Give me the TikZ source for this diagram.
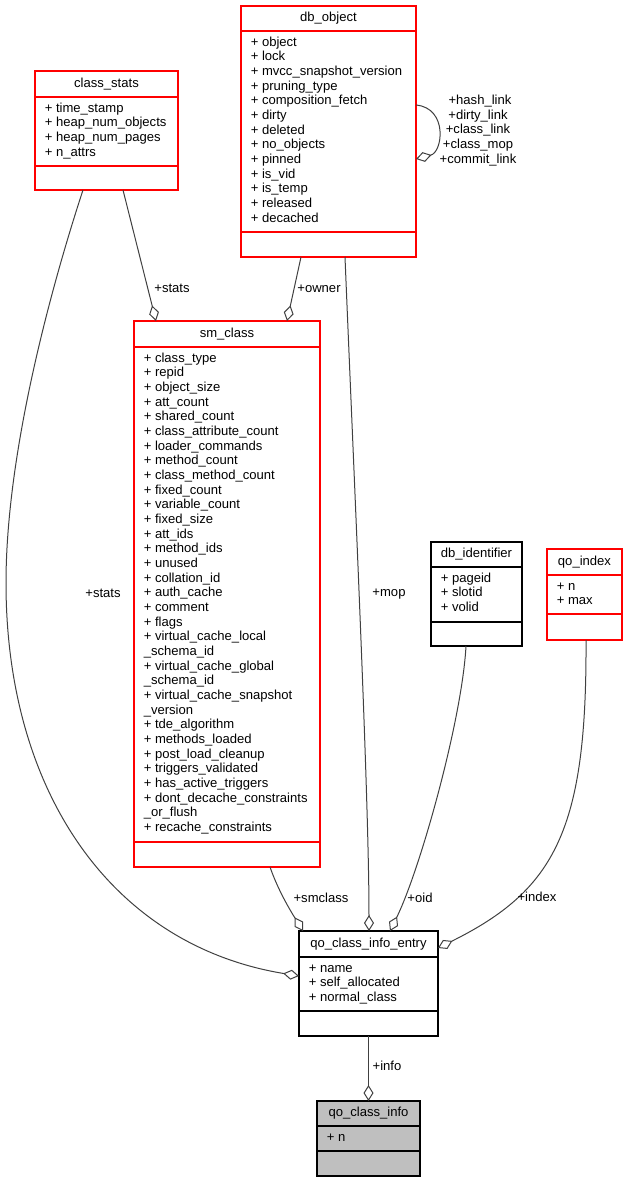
\documentclass[tikz,border=0pt]{standalone}
\usepackage{fontspec}
\setmainfont{Liberation Sans}
\usetikzlibrary{arrows.meta,calc}
\definecolor{umlred}{HTML}{FF0000}
\definecolor{edgegray}{HTML}{404040}
\definecolor{boxgray}{HTML}{BFBFBF}
\tikzset{
  redbox/.style={draw=umlred, fill=white, line width=0.8pt},
  blackbox/.style={draw=black, fill=white, line width=0.8pt},
  graybox/.style={draw=black, fill=boxgray, line width=0.8pt},
  edge/.style={draw=edgegray, line width=0.75pt, -{Diamond[open,length=12pt,width=7.5pt]}},
  elabel/.style={anchor=mid, inner sep=0pt},
  attr/.style={anchor=mid west, inner sep=0pt},
}
% #1 name, #2 style, #3 left, #4 top, #5 right, #6 bottom, #7 sep1, #8 sep2, #9 title
\newcommand\umlbox[9]{%
  \node[#2, inner sep=0pt, outer sep=0pt, anchor=north west,
        minimum width={(#5-#3)*0.75pt}, minimum height={(#6-#4)*0.75pt}] (#1) at (#3,#4) {};
  \draw[#2, fill=none] (#3,#7) -- (#5,#7);
  \draw[#2, fill=none] (#3,#8) -- (#5,#8);
  \node[anchor=mid, inner sep=0pt] (#1-title) at ({(#3+#5)/2},{(#4+#7)/2-0.5}) {#9};
}
% #1 left, #2 sep1, #3 list
\newcommand\umlattrs[3]{%
  \foreach \t [count=\i from 0] in {#3}
    \node[attr] at (#1+9.5, #2+11.6+\i*14.67) {\t};
}
\begin{document}
\begin{tikzpicture}[x=0.75pt, y=-0.75pt, font=\fontsize{9.8}{11}\selectfont]
\useasboundingbox (0,0) rectangle (627,1183);

% db_object
\umlbox{dbobject}{redbox}{241}{6}{416}{257}{31}{232}{db\_object}
\umlattrs{241}{31}{+ object, + lock, + mvcc\_snapshot\_version, + pruning\_type,
  + composition\_fetch, + dirty, + deleted, + no\_objects, + pinned, + is\_vid,
  + is\_temp, + released, + decached}

% class_stats
\umlbox{classstats}{redbox}{35}{71}{178}{190}{97}{166}{class\_stats}
\umlattrs{35}{97}{+ time\_stamp, + heap\_num\_objects, + heap\_num\_pages, + n\_attrs}

% sm_class
\umlbox{smclass}{redbox}{134}{321}{320}{867}{347}{842}{sm\_class}
\umlattrs{134}{347}{+ class\_type, + repid, + object\_size, + att\_count, + shared\_count,
  + class\_attribute\_count, + loader\_commands, + method\_count, + class\_method\_count,
  + fixed\_count, + variable\_count, + fixed\_size, + att\_ids, + method\_ids, + unused,
  + collation\_id, + auth\_cache, + comment, + flags, + virtual\_cache\_local,
  \_schema\_id, + virtual\_cache\_global, \_schema\_id, + virtual\_cache\_snapshot,
  \_version, + tde\_algorithm, + methods\_loaded, + post\_load\_cleanup,
  + triggers\_validated, + has\_active\_triggers, + dont\_decache\_constraints,
  \_or\_flush, + recache\_constraints}

% db_identifier
\umlbox{dbid}{blackbox}{431}{542}{522}{646}{567}{622}{db\_identifier}
\umlattrs{431}{567}{+ pageid, + slotid, + volid}

% qo_index
\umlbox{qoindex}{redbox}{547}{549}{622}{640}{575}{614}{qo\_index}
\umlattrs{547}{575}{+ n, + max}

% qo_class_info_entry
\umlbox{entry}{blackbox}{299}{931}{438}{1036}{957}{1011}{qo\_class\_info\_entry}
\umlattrs{299}{957}{+ name, + self\_allocated, + normal\_class}

% qo_class_info
\umlbox{info}{graybox}{317}{1101}{420}{1176}{1126}{1151}{qo\_class\_info}
\umlattrs{317}{1126}{+ n}

% connectors
\draw[edge] ($(classstats.south west)+(88,0)$) -- ($(smclass.north west)+(22,0)$);
\node[elabel] (l-stats1) at (172,289) {+stats};

\draw[edge] ($(dbobject.south west)+(60,0)$) -- ($(smclass.north west)+(153,0)$);
\node[elabel] (l-owner) at (319,289) {+owner};

\draw[edge] ($(dbobject.north east)+(0,99)$) .. controls +(32,3) and +(27,-7) .. ($(dbobject.north east)+(0,153)$);
\node[elabel] (l-hash) at (480,101) {+hash\_link};
\node[elabel] (l-dirty) at (478,116) {+dirty\_link};
\node[elabel] (l-classlink) at (478,130) {+class\_link};
\node[elabel] (l-classmop) at (478,145) {+class\_mop};
\node[elabel] (l-commit) at (478,160) {+commit\_link};

\draw[edge] ($(classstats.south west)+(48,0)$) .. controls +(-23,70) and +(0,-143) .. (6,583)
  .. controls +(0,207) and +(-189,-31) .. ($(entry.north west)+(0,45)$);
\node[elabel] (l-stats2) at (103,594) {+stats};

\draw[edge] ($(dbobject.south west)+(104,0)$) .. controls +(10,243) and +(0,-131) .. ($(entry.north west)+(70,0)$);
\node[elabel] (l-mop) at (389,593) {+mop};

\draw[edge] ($(smclass.south west)+(136,0)$) .. controls +(8,23) and +(-13,-21) .. ($(entry.north west)+(4,0)$);
\node[elabel] (l-smclass) at (321,899) {+smclass};

\draw[edge] ($(dbid.south west)+(35,0)$) .. controls +(-4,74) and +(30,-61) .. ($(entry.north west)+(91,0)$);
\node[elabel] (l-oid) at (420,899) {+oid};

\draw[edge] ($(qoindex.south west)+(39,0)$) .. controls +(1,190) and +(117,-58) .. ($(entry.north east)+(0,17)$);
\node[elabel] (l-index) at (537,898) {+index};

\draw[edge] (entry.south) -- (info.north);
\node[elabel] (l-info) at (387,1067) {+info};
\end{tikzpicture}
\end{document}
